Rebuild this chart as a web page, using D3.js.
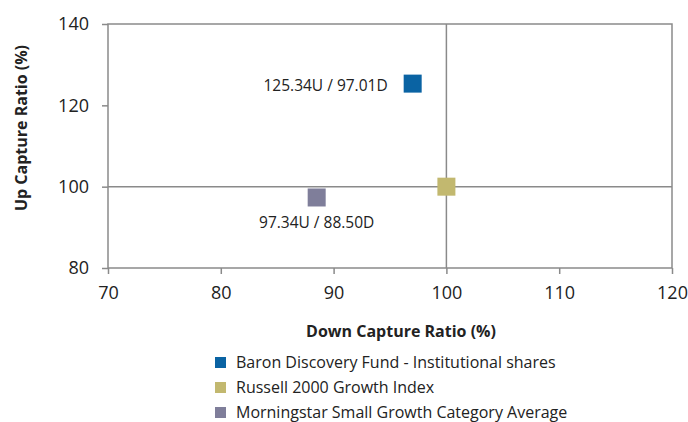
<!DOCTYPE html>
<html>
<head>
<meta charset="utf-8">
<script src="https://cdn.jsdelivr.net/npm/d3@7"></script>
<style>
  body { margin: 0; background: #fff; }
  svg { display: block; font-family: "Open Sans", "Noto Sans", sans-serif; }
</style>
</head>
<body>
<svg id="chart" width="688" height="422"></svg>
<script>
// data
const seriesNames = ['Baron Discovery Fund - Institutional shares', 'Russell 2000 Growth Index', 'Morningstar Small Growth Category Average'];
const downCapture = [97.01, 100, 88.50];
const upCapture = [125.34, 100, 97.34];
const pointLabels = ['125.34U / 97.01D', '', '97.34U / 88.50D'];
const seriesColors = ['#0a63a3', '#c2b86f', '#7f7e9a'];
const xTicks = [70, 80, 90, 100, 110, 120];
const yTicks = [80, 100, 120, 140];

const svg = d3.select('#chart');
const margin = { left: 108, top: 24, right: 16, bottom: 154 };
const width = 688 - margin.left - margin.right;
const height = 422 - margin.top - margin.bottom;

const x = d3.scaleLinear().domain([70, 120]).range([0, width]);
const y = d3.scaleLinear().domain([80, 140]).range([height, 0]);

const g = svg.append('g').attr('transform', `translate(${margin.left},${margin.top})`);
const axisColor = '#8a8a8a';

// frame
g.append('rect')
  .attr('width', width)
  .attr('height', height)
  .attr('fill', 'none')
  .attr('stroke', axisColor)
  .attr('stroke-width', 1.5);

// reference lines at 100
g.append('line')
  .attr('x1', x(100)).attr('x2', x(100))
  .attr('y1', 0).attr('y2', height)
  .attr('stroke', axisColor).attr('stroke-width', 1.5);
g.append('line')
  .attr('x1', 0).attr('x2', width)
  .attr('y1', y(100)).attr('y2', y(100))
  .attr('stroke', axisColor).attr('stroke-width', 1.5);

// axes
const xAxis = g.append('g')
  .attr('transform', `translate(0,${height})`)
  .call(d3.axisBottom(x).tickValues(xTicks).tickSize(6).tickPadding(12));
const yAxis = g.append('g')
  .call(d3.axisLeft(y).tickValues(yTicks).tickSize(6).tickPadding(13));

[xAxis, yAxis].forEach(a => {
  a.select('.domain').remove();
  a.selectAll('line').attr('stroke', axisColor).attr('stroke-width', 1.5);
  a.selectAll('text')
    .attr('fill', '#222')
    .style('font-size', '18px')
    .style('font-family', '"Open Sans", "Noto Sans", sans-serif');
});

// markers
const sq = 18;
g.selectAll('.pt')
  .data(seriesNames)
  .join('rect')
  .attr('class', 'pt')
  .attr('x', (d, i) => x(downCapture[i]) - sq / 2)
  .attr('y', (d, i) => y(upCapture[i]) - sq / 2)
  .attr('width', sq)
  .attr('height', sq)
  .attr('fill', (d, i) => seriesColors[i]);

// point labels
g.append('text')
  .attr('x', x(downCapture[0]) - 25)
  .attr('y', y(upCapture[0]) + 7)
  .attr('text-anchor', 'end')
  .attr('fill', '#222')
  .style('font-size', '15.5px')
  .text(pointLabels[0]);
g.append('text')
  .attr('x', x(downCapture[2]))
  .attr('y', y(upCapture[2]) + 31)
  .attr('text-anchor', 'middle')
  .attr('fill', '#222')
  .style('font-size', '15.5px')
  .text(pointLabels[2]);

// axis titles
svg.append('text')
  .attr('transform', 'translate(27,128) rotate(-90)')
  .attr('text-anchor', 'middle')
  .attr('fill', '#222')
  .style('font-size', '16px')
  .style('font-weight', 'bold')
  .text('Up Capture Ratio (%)');
svg.append('text')
  .attr('x', 401)
  .attr('y', 337)
  .attr('text-anchor', 'middle')
  .attr('fill', '#222')
  .style('font-size', '16px')
  .style('font-weight', 'bold')
  .text('Down Capture Ratio (%)');

// legend
const legend = svg.append('g').attr('transform', 'translate(215,357)');
const item = legend.selectAll('g')
  .data(seriesNames)
  .join('g')
  .attr('transform', (d, i) => `translate(0,${i * 25})`);
item.append('rect')
  .attr('width', 11)
  .attr('height', 11)
  .attr('fill', (d, i) => seriesColors[i]);
item.append('text')
  .attr('x', 21)
  .attr('y', 11)
  .attr('fill', '#222')
  .style('font-size', '16px')
  .text(d => d);
</script>
</body>
</html>
